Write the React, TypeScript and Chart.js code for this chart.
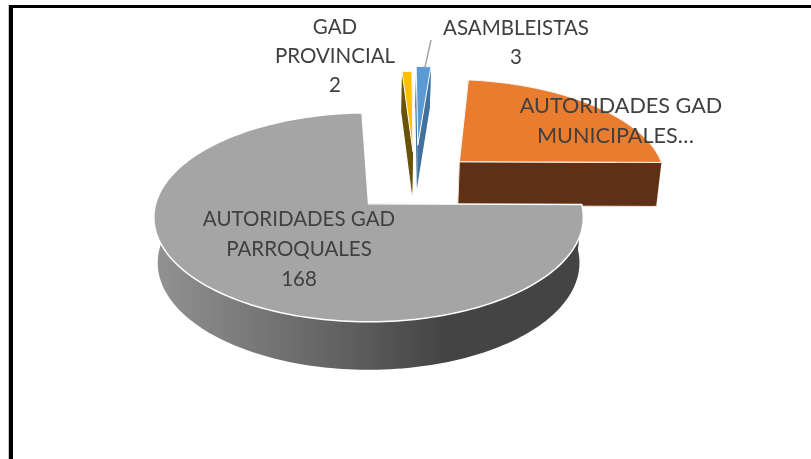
import React, { useEffect, useRef } from "react";
import { Chart, registerables } from "chart.js";

Chart.register(...registerables);

const categories = ["AUTORIDADES GAD MUNICIPALES", "AUTORIDADES GAD PARROQUALES", "GAD PROVINCIAL", "ASAMBLEISTAS"];
const values = [53, 168, 2, 3];
const topColors = ["#EA7C30", "#A5A5A5", "#FFC000", "#5B9BD5"];
const sideColors = ["#5E3116", "#444444", "#6A5208", "#41719C"];
const explode = [58, 62, 60, 74];
const labelLines = [
  ["AUTORIDADES GAD", "MUNICIPALES…"],
  ["AUTORIDADES GAD", "PARROQUALES", String(values[1])],
  ["GAD", "PROVINCIAL", String(values[2])],
  ["ASAMBLEISTAS", String(values[3])],
];
const labelAnchors = [
  { x: 621, y: 106, size: 21.6, shift: -5.5 },
  { x: 299, y: 219, size: 20.5, shift: 0 },
  { x: 335, y: 27, size: 20.5, shift: 0 },
  { x: 516, y: 28, size: 20.5, shift: 0 },
];
const lineGap = [30, 30, 29, 29];

// Perspective model of the 3-D disc
const OX = 368, OY = 204, RX = 213, KY = 102.8, P = 0.129;
const U0 = 0.228, V0 = -0.233, DEPTH = 45.1;

function project(u: number, v: number) {
  const s = 1 / (1 - P * v);
  return { x: OX + RX * u * s, y: OY + KY * v * s, s };
}
function lower(pt: { x: number; y: number; s: number }) {
  return { x: OX + (pt.x - OX) * 0.982, y: pt.y + DEPTH * Math.pow(pt.s, 0.448) };
}

const pie3d = {
  id: "pie3d",
  beforeDatasetsDraw(chart: any) {
    const ctx = chart.ctx as CanvasRenderingContext2D;
    const meta = chart.getDatasetMeta(0);
    [2, 3, 0, 1].forEach((i) => {
      const arc = meta.data[i];
      const R = arc.outerRadius;
      const a0 = arc.startAngle, a1 = arc.endAngle, mid = (a0 + a1) / 2;
      const off = (arc.options.offset || 0) / R;
      const cu = U0 + Math.cos(mid) * off;
      const cv = V0 + Math.sin(mid) * off;
      const apex = project(cu, cv);
      const rim: any[] = [];
      const n = Math.max(6, Math.ceil((a1 - a0) * 40));
      for (let k = 0; k <= n; k++) {
        const a = a0 + ((a1 - a0) * k) / n;
        rim.push(project(cu + Math.cos(a), cv + Math.sin(a)));
      }
      const trace = (pts: { x: number; y: number }[]) => {
        ctx.beginPath();
        pts.forEach((p, j) => (j ? ctx.lineTo(p.x, p.y) : ctx.moveTo(p.x, p.y)));
        ctx.closePath();
      };
      // radial walls
      ctx.fillStyle = sideColors[i];
      [rim[0], rim[rim.length - 1]].forEach((end) => {
        trace([apex, end, lower(end), lower(apex)]);
        ctx.fill();
        if (i === 0) {
          ctx.strokeStyle = "#F3E6DC";
          ctx.lineWidth = 1;
          ctx.stroke();
        }
      });
      // outer band
      if (i === 1) {
        const g = ctx.createLinearGradient(155, 0, 445, 0);
        g.addColorStop(0, "#929292");
        g.addColorStop(0.5, "#6C6C6C");
        g.addColorStop(1, "#444444");
        ctx.fillStyle = g;
      }
      trace([...rim, ...rim.slice().reverse().map(lower)]);
      ctx.fill();
      // top
      trace([apex, ...rim]);
      ctx.fillStyle = arc.options.backgroundColor;
      ctx.fill();
      ctx.strokeStyle = arc.options.borderColor;
      ctx.lineWidth = i === 1 ? 1.5 : 1;
      ctx.lineJoin = "round";
      ctx.stroke();
    });
    return false;
  },
  afterDraw(chart: any) {
    const ctx = chart.ctx as CanvasRenderingContext2D;
    ctx.save();
    ctx.strokeStyle = "#A6A6A6";
    ctx.lineWidth = 1.5;
    ctx.beginPath();
    ctx.moveTo(431, 40);
    ctx.lineTo(425, 67);
    ctx.stroke();
    ctx.fillStyle = "#404040";
    ctx.textAlign = "center";
    ctx.textBaseline = "middle";
    labelLines.forEach((lines, i) => {
      const a = labelAnchors[i];
      ctx.font = `${a.size}px Lato, "Open Sans", sans-serif`;
      lines.forEach((t, j) => ctx.fillText(t, a.x + (j ? a.shift : 0), a.y + j * lineGap[i]));
    });
    ctx.restore();
  },
};

export default function App() {
  const ref = useRef<HTMLCanvasElement>(null);
  useEffect(() => {
    const chart = new Chart(ref.current!, {
      type: "pie",
      data: {
        labels: categories,
        datasets: [{ data: values, backgroundColor: topColors, borderColor: "#FFFFFF", borderWidth: 1, offset: explode }],
      },
      options: {
        animation: false,
        responsive: false,
        rotation: 6,
        events: [],
        plugins: { legend: { display: false }, tooltip: { enabled: false } },
      },
      plugins: [pie3d],
    } as any);
    return () => chart.destroy();
  }, []);
  return (
    <div style={{ position: "absolute", left: 0, top: 0, width: 811, height: 459, overflow: "hidden", background: "#fff" }}>
      <canvas ref={ref} width={811} height={459} style={{ display: "block" }} />
      <div style={{ position: "absolute", left: 8, top: 5, width: 1, height: 454, background: "#C8C8C8" }} />
      <div style={{ position: "absolute", left: 9, top: 5, width: 802, height: 2.5, background: "#000" }} />
      <div style={{ position: "absolute", left: 9, top: 5, width: 4, height: 454, background: "#000" }} />
    </div>
  );
}
